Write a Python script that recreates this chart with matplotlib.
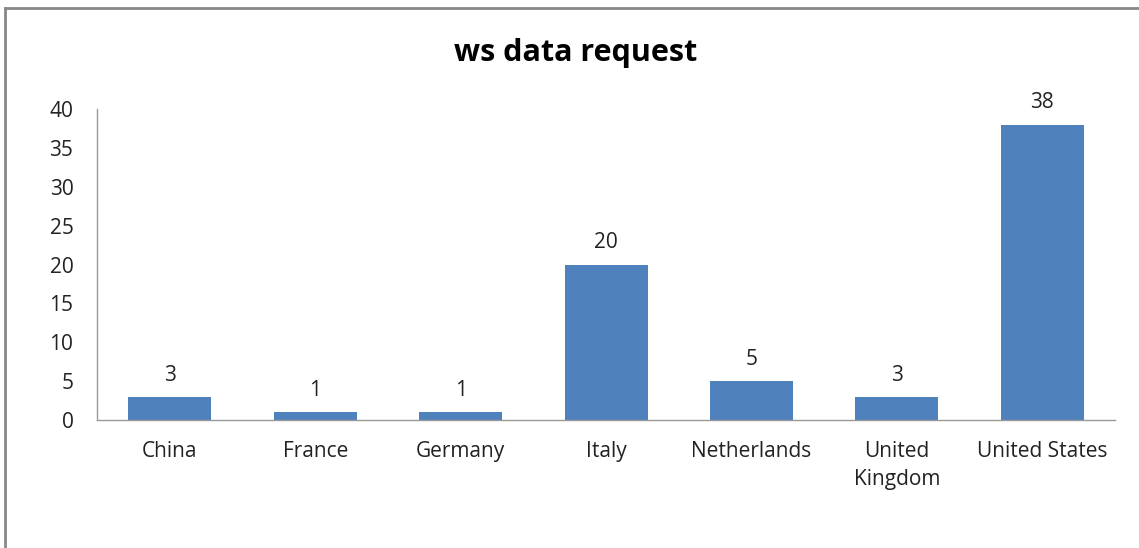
import matplotlib
matplotlib.use("Agg")
import matplotlib.pyplot as plt
from matplotlib.lines import Line2D

categories = ["China", "France", "Germany", "Italy", "Netherlands", "United\nKingdom", "United States"]
values = [3, 1, 1, 20, 5, 3, 38]
yticks = [0, 5, 10, 15, 20, 25, 30, 35, 40]

plt.rcParams['font.family'] = ['Open Sans', 'DejaVu Sans']

fig = plt.figure(figsize=(11.39, 5.48), dpi=100)
ax = fig.add_axes([0.0852, 0.2336, 0.979 - 0.0852, 0.801 - 0.2336])

x = range(len(categories))
ax.bar(x, values, width=0.57, color="#4F81BD")
for xi, v in zip(x, values):
    ax.annotate(str(v), (xi, v), xytext=(0, 8), textcoords="offset points",
                ha="center", va="bottom", fontsize=15, color="#222222")

ax.set_xlim(-0.5, len(categories) - 0.5)
ax.set_ylim(0, 40)
ax.set_yticks(yticks)
ax.set_xticks(list(x))
ax.set_xticklabels(categories, fontsize=15, color="#222222", linespacing=1.45, va="top")
ax.tick_params(axis="y", labelsize=15, colors="#222222", length=0, pad=17)
ax.tick_params(axis="x", length=0, pad=15)
for s in ["top", "right"]:
    ax.spines[s].set_visible(False)
for s in ["left", "bottom"]:
    ax.spines[s].set_color("#999999")
    ax.spines[s].set_linewidth(1.0)

fig.text(0.505, 0.903, "ws data request", ha="center", va="center", fontsize=22, fontweight="bold", color="#000000")

# outer chart border (top and left visible)
fig.add_artist(Line2D([5/1139, 5/1139], [0, 1 - 8/548], transform=fig.transFigure, color="#888888", lw=2))
fig.add_artist(Line2D([5/1139, 1], [1 - 8/548, 1 - 8/548], transform=fig.transFigure, color="#888888", lw=2))

fig.savefig("out.png", dpi=100)
